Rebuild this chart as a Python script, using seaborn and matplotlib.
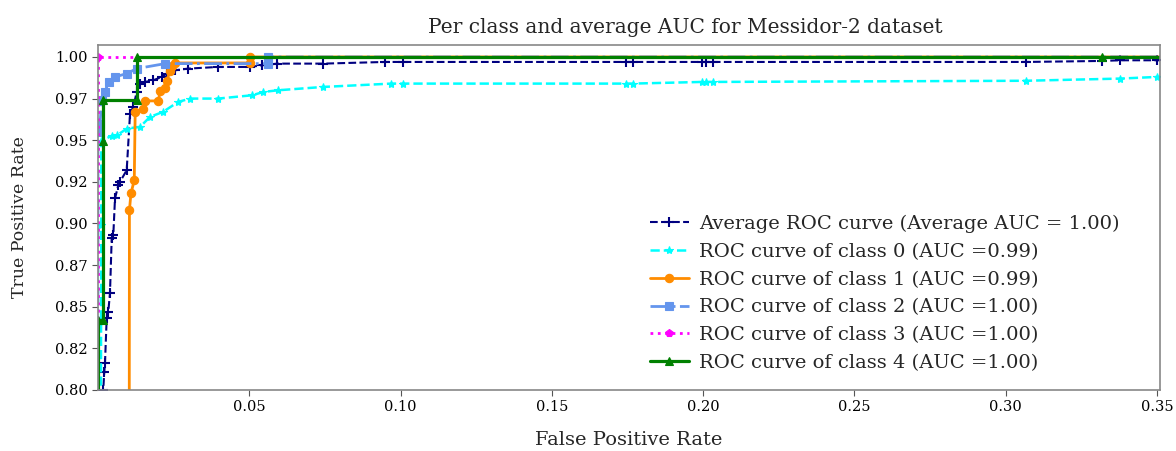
import numpy as np
import pandas as pd
import seaborn as sns
import matplotlib
matplotlib.use('Agg')
import matplotlib.pyplot as plt

# ROC points
avg_fpr = [0.0, 0.00175, 0.00209, 0.00232, 0.00288, 0.00341, 0.00397, 0.00454, 0.00507, 0.00563,
           0.00672, 0.00728, 0.0095, 0.0106, 0.0117, 0.0128, 0.0139, 0.0156, 0.0183, 0.0211,
           0.0227, 0.0255, 0.0298, 0.0397, 0.0503, 0.0543, 0.0593, 0.0745, 0.0950, 0.1007,
           0.1745, 0.1768, 0.1997, 0.2010, 0.2033, 0.3066, 0.3318, 0.3377, 0.35, 1.0]
avg_tpr = [0.0, 0.800, 0.811, 0.816, 0.843, 0.847, 0.858, 0.891, 0.893, 0.915,
           0.923, 0.925, 0.932, 0.966, 0.970, 0.979, 0.984, 0.985, 0.986, 0.988,
           0.990, 0.992, 0.993, 0.994, 0.994, 0.995, 0.996, 0.996, 0.997, 0.997,
           0.997, 0.997, 0.997, 0.997, 0.997, 0.997, 0.9976, 0.998, 0.998, 1.0]

c0_fpr = [0.0, 0.0011, 0.0011, 0.0045, 0.0063, 0.0096, 0.0139, 0.0172, 0.0215, 0.0265,
          0.0305, 0.0397, 0.051, 0.0547, 0.0596, 0.0745, 0.0970, 0.1007, 0.1745, 0.1768,
          0.1997, 0.2010, 0.2033, 0.3066, 0.3377, 0.35, 1.0]
c0_tpr = [0.0, 0.899, 0.9496, 0.9526, 0.953, 0.957, 0.958, 0.964, 0.967, 0.973,
          0.975, 0.975, 0.977, 0.979, 0.980, 0.982, 0.984, 0.984, 0.984, 0.984,
          0.985, 0.985, 0.985, 0.9857, 0.987, 0.988, 1.0]

c1_fpr = [0.0, 0.0100, 0.0104, 0.0109, 0.0120, 0.0123, 0.0150, 0.0156, 0.0200, 0.0205,
          0.0222, 0.0227, 0.0238, 0.0244, 0.0255, 0.0503, 0.0503, 1.0]
c1_tpr = [0.0, 0.0, 0.908, 0.918, 0.926, 0.9667, 0.9686, 0.9736, 0.9736, 0.9796,
          0.9815, 0.9855, 0.9915, 0.9945, 0.9964, 0.9964, 1.0, 1.0]

c2_fpr = [0.0, 0.0, 0.0007, 0.0012, 0.0023, 0.0035, 0.0056, 0.0095, 0.0128, 0.0222,
          0.0563, 0.0563, 1.0]
c2_tpr = [0.0, 0.955, 0.960, 0.974, 0.979, 0.985, 0.988, 0.990, 0.993, 0.996,
          0.996, 1.0, 1.0]

c3_fpr = [0.0, 0.0, 1.0]
c3_tpr = [0.0, 1.0, 1.0]

c4_fpr = [0.0, 0.0, 0.0018, 0.0018, 0.0018, 0.0130, 0.0130, 0.3318, 1.0]
c4_tpr = [0.0, 0.842, 0.842, 0.9496, 0.974, 0.974, 1.0, 1.0, 1.0]

labels = ['Average ROC curve (Average AUC = 1.00)',
          'ROC curve of class 0 (AUC =0.99)',
          'ROC curve of class 1 (AUC =0.99)',
          'ROC curve of class 2 (AUC =1.00)',
          'ROC curve of class 3 (AUC =1.00)',
          'ROC curve of class 4 (AUC =1.00)']

yticks = [0.80, 0.825, 0.85, 0.875, 0.90, 0.925, 0.95, 0.975, 1.00]
ytick_labels = ['0.80', '0.82', '0.85', '0.87', '0.90', '0.92', '0.95', '0.97', '1.00']
xticks = [0.05, 0.10, 0.15, 0.20, 0.25, 0.30, 0.35]

sns.set_style('ticks')
plt.rcParams['font.family'] = ['DejaVu Serif']

fig = plt.figure(figsize=(11.76, 4.51), dpi=100)
ax = fig.add_axes([0.0833, 0.1353, 0.9031, 0.765])

curves = [
    (avg_fpr, avg_tpr, 'navy', '--', '+', 1.5, 6.5),
    (c0_fpr, c0_tpr, 'cyan', '--', '*', 1.8, 6),
    (c1_fpr, c1_tpr, 'darkorange', '-', 'o', 2.0, 6),
    (c2_fpr, c2_tpr, 'cornflowerblue', '-.', 's', 2.0, 6),
    (c3_fpr, c3_tpr, 'magenta', ':', 'p', 2.0, 6),
    (c4_fpr, c4_tpr, 'green', '-', '^', 2.3, 6),
]
for (fx, ty, col, ls, mk, lw, ms), lab in zip(curves, labels):
    sns.lineplot(x=fx, y=ty, sort=False, estimator=None, color=col, linestyle=ls,
                 marker=mk, linewidth=lw, markersize=ms,
                 markeredgewidth=1.5 if mk == '+' else 0.8,
                 markeredgecolor=col, label=lab, ax=ax)

ax.set_xlim(0, 0.351)
ax.set_ylim(0.80, 1.0072)
ax.set_xticks(xticks)
ax.set_xticklabels(['%.2f' % v for v in xticks])
ax.set_yticks(yticks)
ax.set_yticklabels(ytick_labels)
ax.tick_params(labelsize=10.5, colors='#555555', length=4)
for t in ax.get_xticklabels() + ax.get_yticklabels():
    t.set_color('black')
for s in ax.spines.values():
    s.set_color('#888888')
    s.set_linewidth(1.2)

ax.set_xlabel('False Positive Rate', fontsize=14, labelpad=12)
ax.set_ylabel('True Positive Rate', fontsize=12.5, labelpad=19)
fig.text(0.583, 0.94, 'Per class and average AUC for Messidor-2 dataset',
         ha='center', va='center', fontsize=14.5)

ax.legend(loc='lower left', fontsize=14, frameon=False, handlelength=2.05,
          handletextpad=0.5, labelspacing=0.5, borderaxespad=0.0, borderpad=0.4,
          bbox_to_anchor=(0.512, 0.03))

fig.savefig('out.png', dpi=100)
